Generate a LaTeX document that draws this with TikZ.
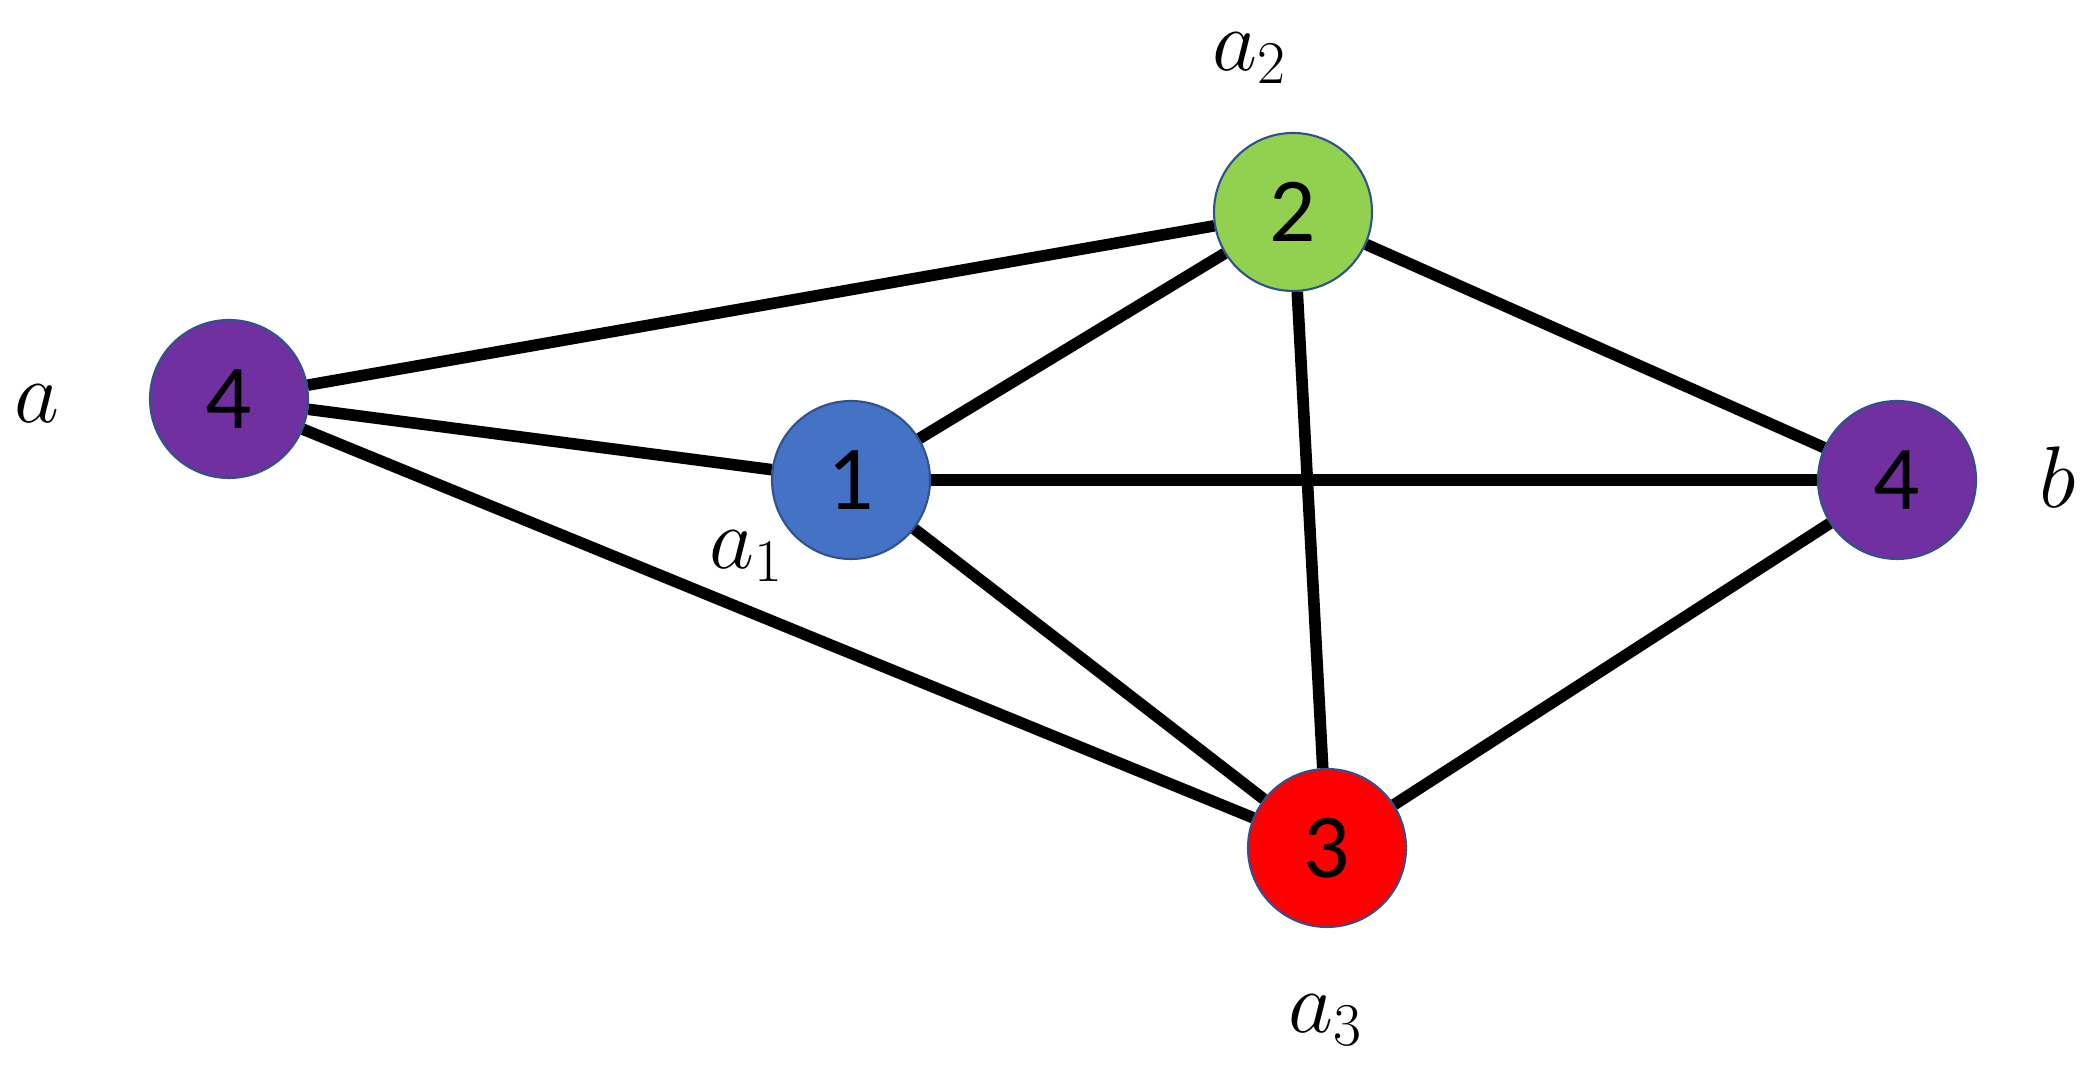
\documentclass[tikz,border=0pt]{standalone}
\usepackage{amsmath}
\usepackage{fontspec}
\setmainfont{Carlito}
\usepackage{tikz}
\definecolor{vtxpurple}{RGB}{112, 48, 160}
\definecolor{vtxgreen}{RGB}{146, 208, 80}
\definecolor{vtxblue}{RGB}{68, 114, 196}
\definecolor{vtxred}{RGB}{255, 0, 0}
\definecolor{vtxrim}{RGB}{47, 82, 143}

\begin{document}
\begin{tikzpicture}[
      vtx/.style={circle, draw=vtxrim, line width=0.6pt,
                  minimum size=1.58cm, inner sep=0pt,
                  font=\fontsize{26}{30}\selectfont},
      lbl/.style={font=\fontsize{24}{28}\selectfont, inner sep=0pt},
      edge/.style={line width=3.3pt, black},
    ]
    \useasboundingbox (0,0) rectangle (20.91,10.66);
    %% vertices (colour classes)
    \node[vtx, fill=vtxpurple] (va) at (2.29, 6.67) {4};
    \node[vtx, fill=vtxblue]   (v1) at (8.51, 5.86) {1};
    \node[vtx, fill=vtxgreen]  (v2) at (12.93, 8.54) {2};
    \node[vtx, fill=vtxred]    (v3) at (13.27, 2.18) {3};
    \node[vtx, fill=vtxpurple] (vb) at (18.97, 5.86) {4};
    %% vertex names
    \node[lbl] (la) at (0.37, 6.62) {$a$};
    \node[lbl] (l1) at (7.47, 5.10) {$a_1$};
    \node[lbl] (l2) at (12.50, 10.08) {$a_2$};
    \node[lbl] (l3) at (13.26, 0.46) {$a_3$};
    \node[lbl] (lb) at (20.58, 5.89) {$b$};
    %% edges
    \foreach \s/\t in {va/v2, va/v1, va/v3, v1/v2, v1/vb, v1/v3,
                       v2/vb, v2/v3, v3/vb}{
      \draw[edge] (\s) -- (\t);
    }
\end{tikzpicture}
\end{document}
